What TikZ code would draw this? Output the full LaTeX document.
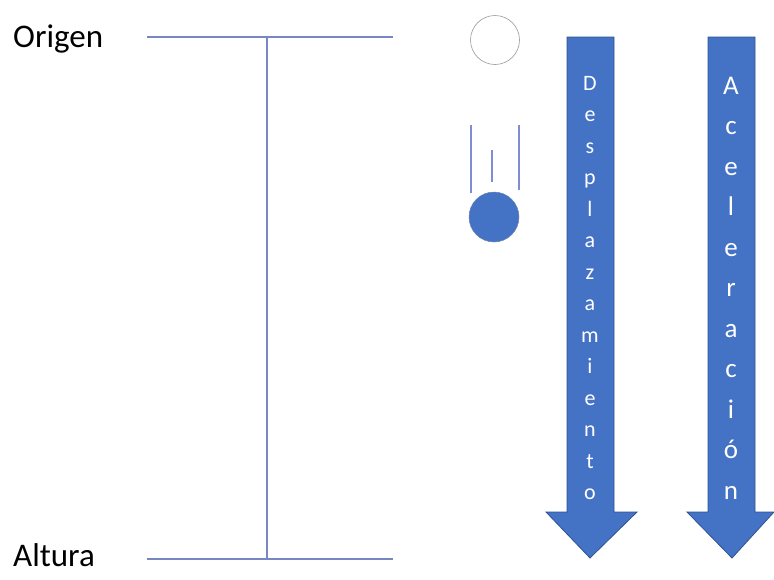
\documentclass[tikz,border=0pt]{standalone}
\usepackage{fontspec}
\setmainfont{Carlito}
\usepackage{xcolor}
\definecolor{bluefill}{HTML}{4472C4}
\definecolor{blueedge}{HTML}{2F528F}
\definecolor{linecol}{RGB}{120,134,196}
\definecolor{trailcol}{RGB}{128,140,214}

\begin{document}
\begin{tikzpicture}[x=1pt, y=-1pt,
    lbl/.style={font=\fontsize{33}{33}\selectfont, anchor=base west, inner sep=0pt},
    ref/.style={draw=linecol, line width=2pt},
    trail/.style={draw=trailcol, line width=2pt},
    blockarrow/.style={fill=bluefill, draw=blueedge, line width=0.8pt},
    letter/.style={text=white, anchor=base, inner sep=0pt}]
  \useasboundingbox (0,0) rectangle (774,579);
  % labels
  \node[lbl] (origen) at (13,47) {Origen};
  \node[lbl] (altura) at (13,566) {Altura};
  % reference lines
  \coordinate (ol) at (147,37);
  \coordinate (or) at (393,37);
  \coordinate (al) at (147,559);
  \coordinate (ar) at (393,559);
  \coordinate (vt) at (267,37);
  \coordinate (vb) at (267,559);
  \draw[ref] (ol) -- (or);
  \draw[ref] (al) -- (ar);
  \draw[ref] (vt) -- (vb);
  % ball before and after
  \node[circle, draw=gray!80, line width=0.6pt, minimum size=49pt, inner sep=0pt] (start) at (495,40) {};
  \node[circle, fill=bluefill, draw=blueedge!70, line width=0.5pt, minimum size=50pt, inner sep=0pt] (ball) at (494,217) {};
  \draw[trail] (471,125) -- (471,193);
  \draw[trail] (492,150) -- (492,182);
  \draw[trail] (519,125) -- (519,190);
  % block arrows
  \draw[blockarrow] (567,37) -- (614,37) -- (614,512) -- (637,512) -- (590,558)
    -- (546,512) -- (567,512) -- cycle;
  \draw[blockarrow] (708,37) -- (755,37) -- (755,512) -- (774,512) -- (732,558)
    -- (687,512) -- (708,512) -- cycle;
  \foreach \l [count=\i] in {D,e,s,p,l,a,z,a,m,i,e,n,t,o}
    \node[letter, font=\fontsize{22}{22}\selectfont] (d\i) at (590,{90+(\i-1)*31.5}) {\l};
  \foreach \l [count=\i] in {A,c,e,l,e,r,a,c,i,ó,n}
    \node[letter, font=\fontsize{27}{27}\selectfont] (a\i) at (731,{94+(\i-1)*40.5}) {\l};
\end{tikzpicture}
\end{document}
